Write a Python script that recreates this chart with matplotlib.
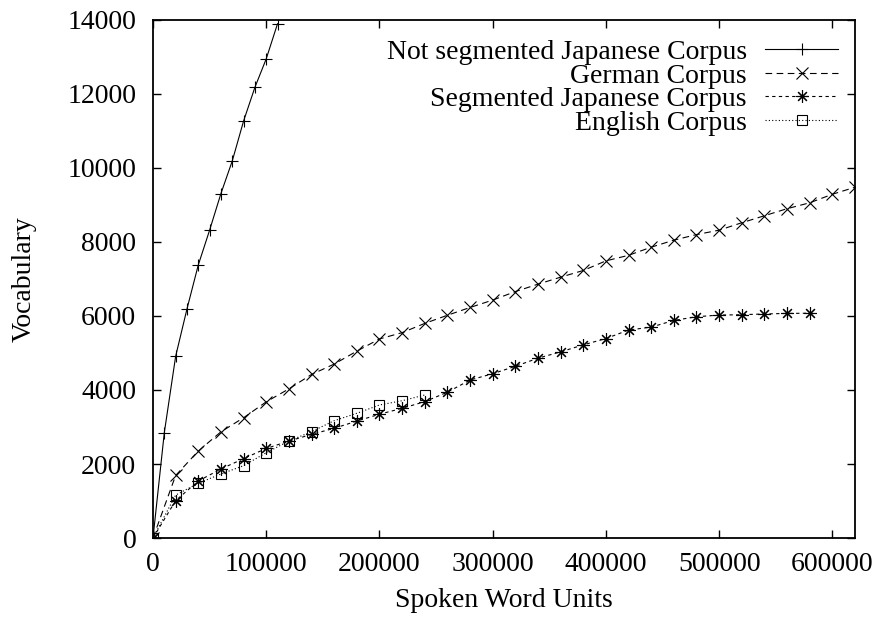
import numpy as np
import matplotlib
matplotlib.use('Agg')
import matplotlib.pyplot as plt

# data
x_notseg = [0, 10000, 20000, 30000, 40000, 50000, 60000, 70000, 80000, 90000, 100000, 110000]
y_notseg = [0, 2850, 4910, 6190, 7380, 8320, 9310, 10190, 11270, 12180, 12950, 13900]

x_german = list(range(0, 620001, 20000))
y_german = [0, 1690, 2350, 2870, 3250, 3680, 4030, 4420, 4700, 5050, 5380, 5550,
            5800, 6020, 6230, 6430, 6660, 6860, 7050, 7230, 7490, 7640, 7860, 8050,
            8200, 8320, 8520, 8710, 8900, 9060, 9290, 9480]

x_seg = list(range(0, 580001, 20000))
y_seg = [0, 1010, 1540, 1865, 2145, 2420, 2620, 2800, 2965, 3160, 3345, 3505,
         3685, 3940, 4270, 4440, 4640, 4860, 5030, 5220, 5390, 5620, 5700, 5880,
         5980, 6025, 6035, 6055, 6070, 6075]

x_eng = list(range(0, 240001, 20000))
y_eng = [0, 1160, 1480, 1730, 1955, 2305, 2620, 2875, 3170, 3370, 3595, 3710, 3865]

labels = ['Not segmented Japanese Corpus', 'German Corpus',
          'Segmented Japanese Corpus', 'English Corpus']

plt.rcParams['font.family'] = ['Liberation Serif', 'DejaVu Serif']
plt.rcParams['font.size'] = 20

fig = plt.figure(figsize=(8.76, 6.23), dpi=100)
ax = fig.add_axes([153/876, 85/623, 702/876, 518/623])

lw = 0.8
ax.plot(x_notseg, y_notseg, color='black', lw=lw, ls='-',
        marker='+', ms=9, mew=lw, label=labels[0])
ax.plot(x_german, y_german, color='black', lw=lw, ls=(0, (6, 4)),
        marker='x', ms=8, mew=lw, label=labels[1])
ax.plot(x_seg, y_seg, color='black', lw=lw, ls=(0, (3, 3)),
        marker=(8, 2, 0), ms=9, mew=lw, label=labels[2])
ax.plot(x_eng, y_eng, color='black', lw=lw, ls=(0, (1, 2)),
        marker='s', ms=7, mew=lw, mfc='none', label=labels[3])

ax.set_xlim(0, 620000)
ax.set_ylim(0, 14000)
ax.set_xticks(np.arange(0, 600001, 100000))
ax.set_yticks(np.arange(0, 14001, 2000))
ax.tick_params(direction='in', top=True, right=True, length=6, width=1,
               labelsize=20)
ax.tick_params(axis='x', pad=10)
ax.tick_params(axis='y', pad=12)
for s in ax.spines.values():
    s.set_linewidth(1.3)

ax.set_xlabel('Spoken Word Units', labelpad=8)
ax.set_ylabel('Vocabulary', labelpad=22)

leg = ax.legend(loc='upper right', bbox_to_anchor=(1.0, 1 - 2.5/518),
                frameon=False, markerfirst=False,
                handlelength=2.63, handletextpad=0.65, labelspacing=-0.065,
                borderaxespad=0.08, borderpad=0.53, fontsize=20)
for t in leg.get_texts():
    t.set_ha('right')
leg._legend_box.align = 'right'

plt.savefig('out.png', dpi=100)
